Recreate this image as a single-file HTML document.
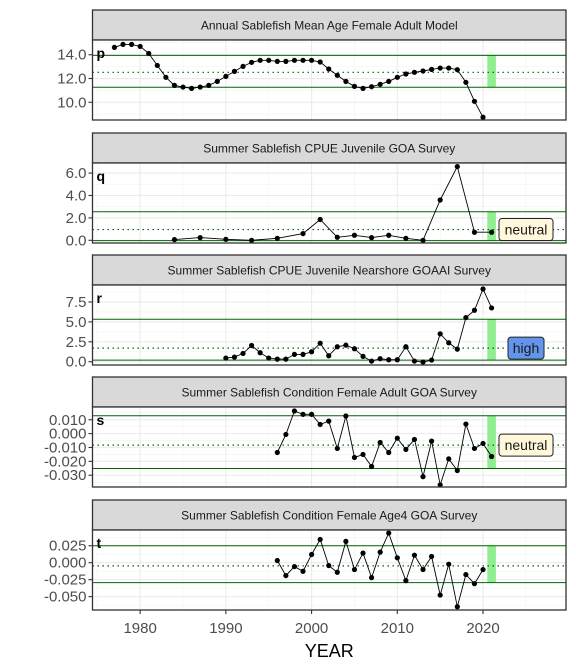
<!DOCTYPE html>
<html><head><meta charset="utf-8"><style>
body{margin:0;background:#fff;}
svg{display:block;font-family:"Liberation Sans",Arial,sans-serif;}
</style></head><body>
<svg id="chart" width="576" height="672" xmlns="http://www.w3.org/2000/svg"></svg>
<script>
const yearsP=[1977,1978,1979,1980,1981,1982,1983,1984,1985,1986,1987,1988,1989,1990,1991,1992,1993,1994,1995,1996,1997,1998,1999,2000,2001,2002,2003,2004,2005,2006,2007,2008,2009,2010,2011,2012,2013,2014,2015,2016,2017,2018,2019,2020];
const valuesP=[14.62,14.87,14.87,14.7,14.11,13.1,12.1,11.42,11.28,11.17,11.28,11.42,11.76,12.18,12.6,13.02,13.36,13.53,13.53,13.44,13.44,13.53,13.53,13.53,13.39,12.8,12.27,11.76,11.34,11.17,11.31,11.51,11.76,12.1,12.38,12.52,12.63,12.77,12.88,12.88,12.74,11.68,10.08,8.74];
const yearsQ=[1984,1987,1990,1993,1996,1999,2001,2003,2005,2007,2009,2011,2013,2015,2017,2019,2021];
const valuesQ=[0.06,0.24,0.09,0,0.18,0.6,1.86,0.27,0.45,0.24,0.45,0.18,0,3.6,6.58,0.72,0.72];
const yearsR=[1990,1991,1992,1993,1994,1995,1996,1997,1998,1999,2000,2001,2002,2003,2004,2005,2006,2007,2008,2009,2010,2011,2012,2013,2014,2015,2016,2017,2018,2019,2020,2021];
const valuesR=[0.46,0.58,1.04,2.04,1.13,0.46,0.33,0.33,0.92,0.92,1.25,2.33,0.75,1.88,2.08,1.63,0.67,0.08,0.38,0.25,0.25,1.88,0.08,-0.04,0.21,3.5,2.38,1.58,5.54,6.46,9.13,6.75];
const yearsS=[1996,1997,1998,1999,2000,2001,2002,2003,2004,2005,2006,2007,2008,2009,2010,2011,2012,2013,2014,2015,2016,2017,2018,2019,2020,2021];
const valuesS=[-0.0136,-0.0006,0.0163,0.0139,0.0139,0.0066,0.009,-0.0107,0.0127,-0.0172,-0.015,-0.0237,-0.0064,-0.0136,-0.0033,-0.0114,-0.0042,-0.031,-0.0054,-0.037,-0.0182,-0.0266,0.0069,-0.0107,-0.0071,-0.0165];
const yearsT=[1996,1997,1998,1999,2000,2001,2002,2003,2004,2005,2006,2007,2008,2009,2010,2011,2012,2013,2014,2015,2016,2017,2018,2019,2020];
const valuesT=[0.0032,-0.019,-0.0057,-0.0126,0.0121,0.0343,-0.0042,-0.0141,0.0314,-0.0101,0.0141,-0.022,0.0156,0.0437,0.0072,-0.0264,0.0111,-0.0101,0.0092,-0.0477,-0.0022,-0.0649,-0.0175,-0.0309,-0.0101];
const xTicks=[1980,1990,2000,2010,2020];
const xMinor=[1975,1985,1995,2005,2015,2025];
const panels=[
 {letter:'p',title:'Annual Sablefish Mean Age Female Adult Model',years:yearsP,vals:valuesP,top:10,dom:[8.51,15.24],ticks:[10,12,14],labels:['10.0','12.0','14.0'],minor:[9,11,13,15],hi:13.95,lo:11.26,mid:12.52,tag:null},
 {letter:'q',title:'Summer Sablefish CPUE Juvenile GOA Survey',years:yearsQ,vals:valuesQ,top:133,dom:[-0.24,6.9],ticks:[0,2,4,6],labels:['0.0','2.0','4.0','6.0'],minor:[1,3,5],hi:2.55,lo:-0.03,mid:0.96,tag:'neutral'},
 {letter:'r',title:'Summer Sablefish CPUE Juvenile Nearshore GOAAI Survey',years:yearsR,vals:valuesR,top:255,dom:[-0.41,9.63],ticks:[0,2.5,5,7.5],labels:['0.0','2.5','5.0','7.5'],minor:[1.25,3.75,6.25,8.75],hi:5.33,lo:0.2,mid:1.71,tag:'high'},
 {letter:'s',title:'Summer Sablefish Condition Female Adult GOA Survey',years:yearsS,vals:valuesS,top:377,dom:[-0.0385,0.0192],ticks:[-0.03,-0.02,-0.01,0,0.01],labels:['-0.030','-0.020','-0.010','0.000','0.010'],minor:[-0.035,-0.025,-0.015,-0.005,0.005,0.015],hi:0.0129,lo:-0.0252,mid:-0.0083,tag:'neutral'},
 {letter:'t',title:'Summer Sablefish Condition Female Age4 GOA Survey',years:yearsT,vals:valuesT,top:500,dom:[-0.0697,0.0482],ticks:[-0.05,-0.025,0,0.025],labels:['-0.050','-0.025','0.000','0.025'],minor:[-0.0625,-0.0375,-0.0125,0.0125,0.0375],hi:0.0249,lo:-0.0294,mid:-0.0047,tag:null}
];
const L=92.5,R=566,X0=1974.44,X1=2029.68;
const sx=y=>L+(y-X0)/(X1-X0)*(R-L);
const NS='http://www.w3.org/2000/svg';
const svg=document.getElementById('chart');
function mk(tag,attrs,parent){const e=document.createElementNS(NS,tag);for(const k in attrs)e.setAttribute(k,attrs[k]);(parent||svg).appendChild(e);return e;}
panels.forEach((p,pi)=>{
 const g=mk('g',{});
 
 
 const st=p.top,pt=st+30,pb=pt+80;
 const sy=v=>pb-(v-p.dom[0])/(p.dom[1]-p.dom[0])*(pb-pt);
 const strip=mk('rect',{x:L,y:st,width:R-L,height:30,fill:'#d9d9d9',stroke:'#333','stroke-width':1.3},g);
 
 
 const tt=mk('text',{x:(L+R)/2,y:st+19.5,'text-anchor':'middle','font-size':12,fill:'#1a1a1a'},g);tt.textContent=p.title;
 
 
 mk('rect',{x:L,y:pt,width:R-L,height:pb-pt,fill:'#fff'},g);
 p.minor.forEach(v=>{const y=sy(v);if(y>pt&&y<pb)mk('line',{x1:L,x2:R,y1:y,y2:y,stroke:'#f2f2f2','stroke-width':0.6},g);});
 xMinor.forEach(v=>{const x=sx(v);mk('line',{x1:x,x2:x,y1:pt,y2:pb,stroke:'#f2f2f2','stroke-width':0.6},g);});
 p.ticks.forEach(v=>{const y=sy(v);mk('line',{x1:L,x2:R,y1:y,y2:y,stroke:'#ebebeb','stroke-width':1.1},g);});
 xTicks.forEach(v=>{const x=sx(v);mk('line',{x1:x,x2:x,y1:pt,y2:pb,stroke:'#ebebeb','stroke-width':1.1},g);});
 const bar=mk('rect',{x:sx(2020.5),y:sy(p.hi),width:sx(2021.5)-sx(2020.5),height:sy(p.lo)-sy(p.hi),fill:'#90ee90'},g);
 
 
 [p.hi,p.lo].forEach(v=>{const l=mk('line',{x1:L,x2:R,y1:sy(v),y2:sy(v),stroke:'#006400','stroke-width':1},g);
  
  });
 const md=mk('line',{x1:L,x2:R,y1:sy(p.mid),y2:sy(p.mid),stroke:'#006400','stroke-width':1.2,'stroke-dasharray':'1.5,3.5'},g);
 
 
 const pts=p.years.map((yr,i)=>sx(yr).toFixed(1)+','+sy(p.vals[i]).toFixed(1)).join(' ');
 const pl=mk('polyline',{points:pts,fill:'none',stroke:'#000','stroke-width':0.9},g);
 
 
 p.years.forEach((yr,i)=>{const c=mk('circle',{cx:sx(yr),cy:sy(p.vals[i]),r:2.6,fill:'#000'},g);
  
  });
 const lt=mk('text',{x:L+4,y:pt+18,'font-size':14,'font-weight':'bold',fill:'#000'},g);lt.textContent=p.letter;
 
 
 if(p.tag){
  const neutral=p.tag==='neutral';
  const bx=neutral?499:508,bw=neutral?54:36;
  const by=sy(p.mid)-11;
  const rr=mk('rect',{x:bx,y:by,width:bw,height:22,rx:3,fill:neutral?'#fff8dc':'#6495ed',stroke:'#222','stroke-width':1},g);
  
  
  const t=mk('text',{x:bx+bw/2,y:by+16,'text-anchor':'middle','font-size':14,fill:'#1a1a1a'},g);t.textContent=p.tag;
  
  
 }
 mk('rect',{x:L,y:pt,width:R-L,height:pb-pt,fill:'none',stroke:'#333','stroke-width':1.3},g);
 p.ticks.forEach((v,i)=>{const y=sy(v);mk('line',{x1:L-4,x2:L,y1:y,y2:y,stroke:'#333','stroke-width':1.1},g);
  const t=mk('text',{x:L-6,y:y+5,'text-anchor':'end','font-size':15,fill:'#4d4d4d'},g);t.textContent=p.labels[i];
  
  });
 if(pi===4){xTicks.forEach(v=>{const x=sx(v);mk('line',{x1:x,x2:x,y1:pb,y2:pb+4,stroke:'#333','stroke-width':1.1},g);
  const t=mk('text',{x:x,y:pb+23,'text-anchor':'middle','font-size':15,fill:'#4d4d4d'},g);t.textContent=v;
  
  });}
});
const xt=mk('text',{x:(L+R)/2,y:657,'text-anchor':'middle','font-size':18,fill:'#000'});xt.textContent='YEAR';


</script>
</body></html>
